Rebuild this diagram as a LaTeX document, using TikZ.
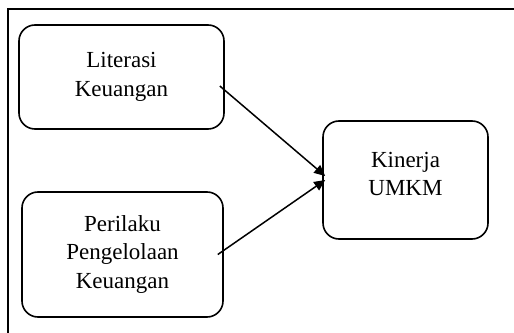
\documentclass[tikz,border=0pt]{standalone}
\usepackage{fontspec}
\setmainfont{Liberation Serif}
\usepackage{tikz}
\usetikzlibrary{arrows.meta}

\begin{document}
\begin{tikzpicture}[x=1pt,y=1pt,
  varbox/.style={draw,line width=1.6pt,rounded corners=16pt,align=center,
    font=\fontsize{23}{28.5}\selectfont,inner sep=0pt},
  link/.style={line width=1.5pt,-{Triangle[length=11pt,width=10pt]}}]
\useasboundingbox (0,0) rectangle (514,332);
\clip (0,0) rectangle (514,332);
\draw[line width=1.3pt] (8,-20) rectangle (530,323);
\node[varbox,minimum width=205pt,minimum height=104pt] (lit) at (121.5,255) {Literasi\\Keuangan};
\node[varbox,minimum width=201pt,minimum height=125pt] (pkl) at (122.5,77.5) {Perilaku\\Pengelolaan\\Keuangan};
\node[varbox,minimum width=165pt,minimum height=118pt] (kin) at (405.5,152) {};
\node[align=center,font=\fontsize{23}{28.5}\selectfont] (kintext) at (405.5,158) {Kinerja\\UMKM};
\draw[link] ([shift={(-5,-9)}]lit.east) -- ([shift={(3,4)}]kin.west);
\draw[link] ([shift={(-6,0)}]pkl.east) -- ([shift={(3,0)}]kin.west);
\end{tikzpicture}
\end{document}
